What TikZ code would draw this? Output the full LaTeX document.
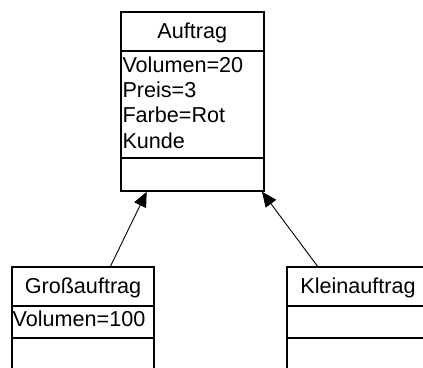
\documentclass[tikz,border=0pt]{standalone}
\usepackage{fontspec}
\setmainfont{Liberation Sans}
\usetikzlibrary{arrows.meta}
\begin{document}
\begin{tikzpicture}[x=1pt,y=-1pt,
  box/.style={draw, line width=2pt},
  attr/.style={font=\fontsize{21.6}{25}\selectfont, inner sep=0pt, anchor=base west},
  ttl/.style={font=\fontsize{21.6}{25}\selectfont, inner sep=0pt, anchor=base},
  inh/.style={-{Triangle[length=15pt,width=13pt]}, line width=0.9pt}]
\useasboundingbox (0,0) rectangle (423,367);
\clip (0,0) rectangle (423,367);
\fill[white] (0,0) rectangle (423,367);
% Auftrag
\draw[box] (120.7,12.3) rectangle (264,190.7);
\draw[box] (120.7,51) -- (264,51);
\draw[box] (120.7,158.3) -- (264,158.3);
\node[ttl] (auftrag) at (192.3,38) {Auftrag};
\node[attr] (a1) at (122.3,72) {Volumen=20};
\node[attr] (a2) at (122.3,97.3) {Preis=3};
\node[attr] (a3) at (122.3,122.8) {Farbe=Rot};
\node[attr] (a4) at (122.3,148.3) {Kunde};
% Grossauftrag
\draw[box] (11.7,267.3) rectangle (154.3,380);
\draw[box] (11.7,305.7) -- (154.3,305.7);
\draw[box] (11.7,338.3) -- (154.3,338.3);
\node[ttl] (gross) at (83,293.3) {Großauftrag};
\node[attr] (g1) at (12.5,326.7) {Volumen=100};
% Kleinauftrag
\draw[box] (286.7,267.3) rectangle (430,380);
\draw[box] (286.7,305.7) -- (430,305.7);
\draw[box] (286.7,338.3) -- (430,338.3);
\node[ttl] (klein) at (358,293.3) {Kleinauftrag};
% connectors
\coordinate (gtop) at (110,267.3);
\coordinate (ktop) at (318.3,267.3);
\coordinate (abl) at (146.7,191.7);
\coordinate (abr) at (262,191.7);
\draw[inh] (gtop) -- (abl);
\draw[inh] (ktop) -- (abr);
\end{tikzpicture}
\end{document}
